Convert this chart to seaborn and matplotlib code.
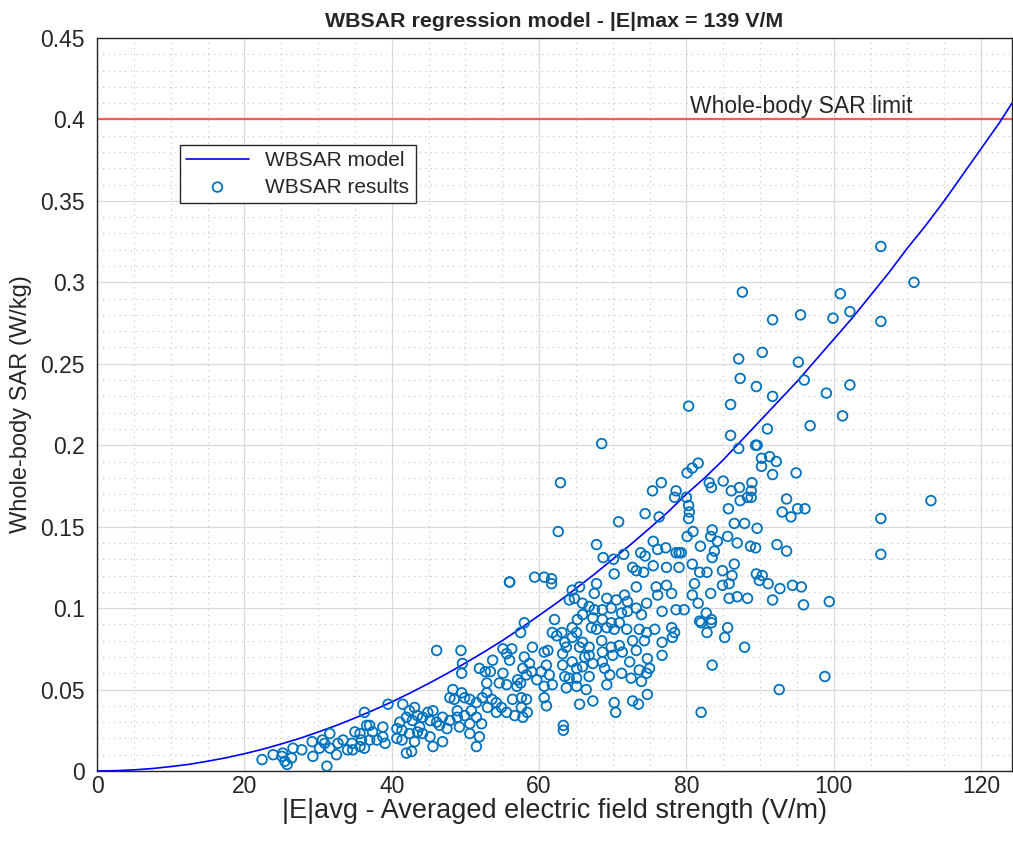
import matplotlib
matplotlib.use("Agg")
import matplotlib.pyplot as plt
from matplotlib.ticker import MultipleLocator, FixedLocator
import seaborn as sns
import pandas as pd

###############
##Data#########
###############

# model curve
model_e = [0, 2.5, 5, 7.5, 10, 12.5, 15, 17.5, 20, 22.5, 25, 27.5, 30, 32.5, 35, 37.5,
           40, 42.5, 45, 47.5, 50, 52.5, 55, 57.5, 60, 62.5, 65, 67.5, 70, 72.5, 75,
           77.5, 80, 82.5, 85, 87.5, 90, 92.5, 95, 97.5, 100, 102.5, 105, 107.5, 110,
           112.5, 115, 117.5, 120, 122.5, 124.2]
model_sar = [0, 0.0002, 0.0007, 0.0015, 0.0027, 0.0041, 0.006, 0.0081, 0.0106, 0.0134,
             0.0166, 0.020, 0.0239, 0.028, 0.0325, 0.0373, 0.0424, 0.0479, 0.0537,
             0.0598, 0.0663, 0.073, 0.080, 0.0876, 0.0955, 0.1035, 0.112, 0.1208, 0.130,
             0.1393, 0.149, 0.159, 0.170, 0.180, 0.191, 0.203, 0.215, 0.227, 0.239, 0.252,
             0.265, 0.278, 0.292, 0.306, 0.321, 0.335, 0.350, 0.366, 0.382, 0.398, 0.410]

# simulation results (|E|avg, WBSAR)
res_e = [
    22.4, 23.9, 25.1, 25.5, 25.8, 25.2, 26.4, 26.6, 27.8, 29.2, 29.3, 30.2, 30.9, 31.6, 31.2, 30.6,
    31.6, 32.5, 32.7, 33.4, 34.0, 34.6, 34.7, 35.0, 35.7, 35.9, 35.7, 36.3, 36.6, 37.0, 37.4, 37.0,
    36.3, 38.0, 38.8, 39.1, 38.8, 39.5, 40.7, 40.7,
    41.5, 42.4, 43.1, 42.0, 42.8, 43.5, 44.2, 44.9, 45.6, 45.2, 46.1, 46.9, 46.5, 47.5, 47.9, 48.9,
    49.9, 50.8, 51.5, 49.2, 50.6, 52.2, 48.9, 42.4, 43.5, 43.1, 42.0, 42.7, 45.2, 45.6, 46.9, 50.6,
    51.9, 51.5, 43.8, 44.2, 41.4, 41.4, 41.1,
    58.0, 57.5, 59.1, 46.1, 49.4, 49.6, 49.5, 55.1, 56.3, 55.6, 56.0, 53.7, 53.4, 51.9, 52.7, 58.0,
    58.7, 57.8, 58.3, 59.0, 59.7, 57.1, 57.0, 57.5, 55.1, 54.6, 55.6, 52.9, 48.3, 47.9, 48.5, 49.5,
    49.9, 50.6, 51.5, 52.3, 52.9, 53.6, 54.2, 54.9, 53.0, 54.2, 55.6, 56.7, 56.4, 57.6, 58.3, 57.6,
    57.8, 58.4, 56.0,
    61.7, 64.5, 64.1, 64.8, 65.5, 67.8, 67.5, 69.2, 70.5, 71.6, 72.0, 73.2, 74.6, 75.9, 76.1, 77.3,
    78.0, 76.7, 78.6, 65.9, 66.8, 67.5, 68.6, 69.8, 71.2, 72.0, 73.2, 73.9, 65.9, 67.3, 68.6, 69.8,
    70.9, 70.2, 69.2, 67.8, 67.1, 65.2, 64.5, 65.1, 62.1, 61.8, 62.4, 63.1, 63.5, 63.7, 73.6, 74.6,
    75.7, 74.3, 71.9, 72.7, 78.0, 78.4, 76.7, 78.1, 64.5, 65.9, 66.8, 65.5, 66.8, 66.2, 68.5, 69.8,
    70.9, 68.6, 70.0, 60.7, 61.2, 61.0, 61.4, 60.3, 63.2, 63.2, 64.5, 65.1, 65.9, 67.3, 68.6, 68.9,
    71.3, 72.3, 73.2, 74.7, 73.6, 74.6, 75.0, 76.7, 63.5, 64.1, 65.1, 66.8, 69.6, 71.2, 72.5, 73.9,
    60.7, 61.8, 63.7, 65.1, 66.4, 69.2, 60.7, 61.0, 65.5, 67.3, 70.2, 70.4, 72.7, 73.5, 74.7, 63.3,
    63.3,
    81.1, 80.8, 79.7, 81.6, 83.3, 84.9, 85.8, 86.9, 85.8, 88.3, 89.9, 91.1, 92.7, 94.4, 95.6, 91.7,
    95.9, 81.8, 82.7, 83.4, 82.0, 82.8, 83.4, 85.6, 85.2, 87.9, 83.5, 92.6, 82.0,
    68.5, 62.9, 62.6, 67.8, 70.8, 74.4, 75.4, 76.6, 78.6, 78.4, 76.3, 68.7, 70.1, 71.5, 75.5, 76.1,
    77.2, 73.8, 74.4, 72.7, 73.2, 74.2, 75.5, 77.3, 70.2, 60.7, 61.7, 78.6, 56.0, 59.4,
    86.0, 91.0, 96.8, 87.1, 89.6, 89.4, 90.2, 91.3, 92.2, 90.2, 91.7, 94.9, 80.1, 80.8, 81.6, 83.1,
    83.4, 85.0, 86.1, 87.2, 88.8, 88.9, 87.3, 88.3, 88.8, 85.7, 80.0, 80.3, 80.4, 80.3, 93.6, 93.0,
    94.2, 95.1, 96.1, 86.5, 87.9, 89.6, 80.1, 80.9, 83.5, 83.3, 84.2, 85.6, 81.9, 83.8, 86.9, 88.7,
    89.4, 92.3, 93.6, 80.8, 83.5, 86.5, 79.3, 79.0, 79.0, 81.8, 82.8, 84.9, 86.2, 89.5, 90.3,
    106.4, 106.4, 113.2, 99.4, 98.8, 101.2,
    87.6, 91.7, 95.5, 87.1, 90.3, 95.2, 87.3, 89.5, 96.0, 91.7, 80.3, 86.0,
    106.4, 110.9, 100.9, 99.9, 102.2, 106.4, 99.0, 102.2,
]
res_sar = [
    0.007, 0.010, 0.009, 0.006, 0.004, 0.011, 0.008, 0.014, 0.013, 0.018, 0.009, 0.014, 0.017, 0.023, 0.003, 0.019,
    0.014, 0.010, 0.017, 0.019, 0.013, 0.017, 0.013, 0.024, 0.023, 0.019, 0.015, 0.036, 0.028, 0.028, 0.024, 0.019,
    0.014, 0.019, 0.021, 0.017, 0.027, 0.041, 0.026, 0.020,
    0.041, 0.037, 0.039, 0.033, 0.031, 0.034, 0.033, 0.036, 0.037, 0.031, 0.030, 0.033, 0.028, 0.026, 0.031, 0.033,
    0.034, 0.037, 0.033, 0.027, 0.029, 0.029, 0.037, 0.023, 0.024, 0.018, 0.011, 0.012, 0.021, 0.015, 0.018, 0.023,
    0.021, 0.015, 0.027, 0.023, 0.025, 0.019, 0.030,
    0.091, 0.085, 0.076, 0.074, 0.074, 0.066, 0.060, 0.075, 0.075, 0.072, 0.068, 0.068, 0.061, 0.063, 0.061, 0.070,
    0.066, 0.063, 0.059, 0.061, 0.056, 0.056, 0.052, 0.054, 0.060, 0.054, 0.053, 0.054, 0.050, 0.045, 0.044, 0.048,
    0.045, 0.044, 0.042, 0.045, 0.048, 0.044, 0.042, 0.039, 0.039, 0.036, 0.036, 0.034, 0.044, 0.045, 0.044, 0.039,
    0.033, 0.036, 0.116,
    0.115, 0.111, 0.105, 0.106, 0.113, 0.115, 0.109, 0.106, 0.105, 0.108, 0.104, 0.113, 0.103, 0.113, 0.108, 0.114,
    0.109, 0.098, 0.099, 0.103, 0.101, 0.099, 0.099, 0.100, 0.097, 0.098, 0.100, 0.096, 0.096, 0.094, 0.093, 0.091,
    0.091, 0.087, 0.088, 0.087, 0.088, 0.093, 0.088, 0.085, 0.093, 0.085, 0.083, 0.085, 0.079, 0.076, 0.087, 0.085,
    0.087, 0.080, 0.087, 0.080, 0.088, 0.085, 0.079, 0.082, 0.082, 0.079, 0.076, 0.076, 0.071, 0.070, 0.080, 0.076,
    0.077, 0.073, 0.071, 0.073, 0.074, 0.065, 0.059, 0.061, 0.072, 0.065, 0.067, 0.063, 0.064, 0.066, 0.067, 0.063,
    0.073, 0.067, 0.074, 0.069, 0.062, 0.060, 0.063, 0.071, 0.058, 0.057, 0.057, 0.058, 0.059, 0.060, 0.057, 0.055,
    0.052, 0.053, 0.051, 0.052, 0.050, 0.053, 0.045, 0.040, 0.041, 0.043, 0.042, 0.036, 0.043, 0.041, 0.047, 0.028,
    0.025,
    0.115, 0.108, 0.099, 0.103, 0.109, 0.114, 0.115, 0.107, 0.106, 0.106, 0.117, 0.115, 0.112, 0.114, 0.113, 0.105,
    0.102, 0.092, 0.097, 0.093, 0.091, 0.085, 0.091, 0.088, 0.082, 0.076, 0.065, 0.050, 0.036,
    0.201, 0.177, 0.147, 0.139, 0.153, 0.158, 0.172, 0.177, 0.172, 0.168, 0.156, 0.131, 0.130, 0.133, 0.141, 0.136,
    0.137, 0.134, 0.132, 0.125, 0.123, 0.122, 0.126, 0.125, 0.121, 0.119, 0.118, 0.134, 0.116, 0.119,
    0.206, 0.210, 0.212, 0.198, 0.200, 0.200, 0.192, 0.193, 0.190, 0.187, 0.182, 0.183, 0.183, 0.186, 0.189, 0.177,
    0.174, 0.178, 0.172, 0.174, 0.172, 0.177, 0.166, 0.168, 0.168, 0.161, 0.168, 0.163, 0.159, 0.155, 0.167, 0.159,
    0.156, 0.161, 0.161, 0.152, 0.152, 0.149, 0.144, 0.147, 0.148, 0.144, 0.141, 0.144, 0.138, 0.135, 0.140, 0.138,
    0.137, 0.139, 0.135, 0.127, 0.131, 0.127, 0.134, 0.134, 0.125, 0.122, 0.122, 0.123, 0.120, 0.121, 0.120,
    0.155, 0.133, 0.166, 0.104, 0.058, 0.218,
    0.294, 0.277, 0.280, 0.253, 0.257, 0.251, 0.241, 0.236, 0.240, 0.230, 0.224, 0.225,
    0.322, 0.300, 0.293, 0.278, 0.282, 0.276, 0.232, 0.237,
]

sar_limit = 0.4
x_ticks = [0, 20, 40, 60, 80, 100, 120]
y_ticks = [0, 0.05, 0.1, 0.15, 0.2, 0.25, 0.3, 0.35, 0.4, 0.45]
y_labels = ["0", "0.05", "0.1", "0.15", "0.2", "0.25", "0.3", "0.35", "0.4", "0.45"]

df_model = pd.DataFrame({"E": model_e, "SAR": model_sar})
df_res = pd.DataFrame({"E": res_e, "SAR": res_sar})

#######################
#plot##################
#######################

sns.set_style("white")
plt.rcParams["font.family"] = ["Liberation Sans", "DejaVu Sans"]

fig = plt.figure(figsize=(10.13, 8.48), dpi=100)
ax = fig.add_axes([0.0958, 0.0908, 0.9032, 0.8644])

ax.axhline(sar_limit, color="#ff5a5a", lw=1.6, zorder=2)
sns.lineplot(data=df_model, x="E", y="SAR", ax=ax, color="#0000ff", lw=1.2,
             sort=False, estimator=None, label="WBSAR model", zorder=3)
sns.scatterplot(data=df_res, x="E", y="SAR", ax=ax, marker="o", s=48,
                facecolors="none", edgecolor="#0072BD", linewidth=1.3,
                label="WBSAR results", zorder=4)

ax.text(80.5, 0.404, "Whole-body SAR limit", fontsize=16.5, color="#262626")

ax.set_xlim(0, 124.2)
ax.set_ylim(0, 0.45)
ax.xaxis.set_major_locator(FixedLocator(x_ticks))
ax.xaxis.set_minor_locator(MultipleLocator(5))
ax.yaxis.set_major_locator(FixedLocator(y_ticks))
ax.yaxis.set_minor_locator(MultipleLocator(0.01))
ax.set_yticklabels(y_labels)
ax.tick_params(which="both", direction="in", labelsize=16.5, colors="#262626")
ax.tick_params(which="major", length=6, width=1)
ax.tick_params(which="minor", length=3, width=0.6)
ax.tick_params(axis="y", which="major", pad=9)
ax.tick_params(axis="x", which="major", pad=3)

ax.grid(which="major", color="#d9d9d9", lw=0.9, ls="-")
ax.grid(which="minor", color="#c4c4c4", lw=0.8, ls=(0, (1, 4)))
ax.set_axisbelow(True)
for sp in ax.spines.values():
    sp.set_color("#262626")
    sp.set_linewidth(1.0)

ax.set_xlabel("|E|avg - Averaged electric field strength (V/m)", fontsize=19.5, color="#262626", labelpad=0)
ax.set_ylabel("Whole-body SAR (W/kg)", fontsize=17, color="#262626", labelpad=6)
ax.set_title("WBSAR regression model - |E|max = 139 V/M", fontsize=15.4, fontweight="bold", pad=8)

leg = ax.legend(loc="upper left", bbox_to_anchor=(0.0906, 0.854), fontsize=15,
                frameon=True, fancybox=False, edgecolor="#262626", framealpha=1,
                borderpad=0.3, handlelength=3.0, labelspacing=0.35, borderaxespad=0)
leg.get_frame().set_linewidth(1.0)

fig.savefig("out.png", dpi=100)
